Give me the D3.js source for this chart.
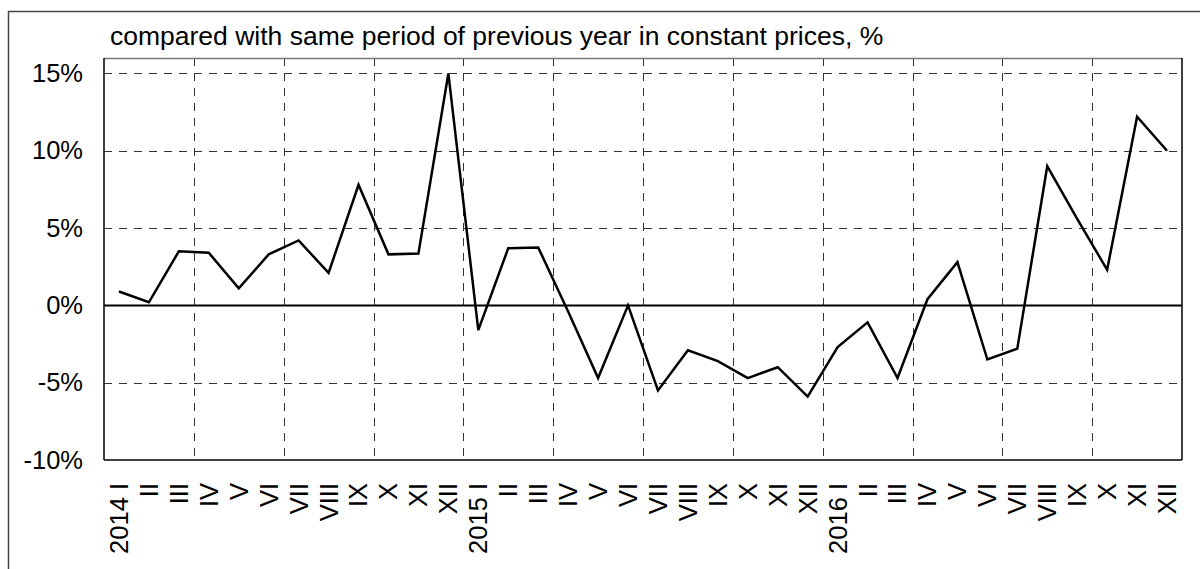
<!DOCTYPE html>
<html>
<head>
<meta charset="utf-8">
<script src="https://cdn.jsdelivr.net/npm/d3@7/dist/d3.min.js"></script>
<style>
  body { margin: 0; background: #fff; }
  text { font-family: 'Liberation Sans', Arial, sans-serif; fill: #000; }
</style>
</head>
<body>
<div id="chart"></div>
<script>
// Data
const years = ['2014', '2015', '2016'];
const months = ['I', 'II', 'III', 'IV', 'V', 'VI', 'VII', 'VIII', 'IX', 'X', 'XI', 'XII'];
const growth = [
  0.9, 0.2, 3.5, 3.4, 1.1, 3.3, 4.2, 2.1, 7.8, 3.3, 3.35, 15.0,
  -1.6, 3.7, 3.75, -0.4, -4.7, 0.0, -5.5, -2.9, -3.6, -4.7, -4.0, -5.9,
  -2.7, -1.1, -4.7, 0.4, 2.8, -3.5, -2.8, 9.0, 5.6, 2.3, 12.2, 10.0
];
const yTicks = [-10, -5, 0, 5, 10, 15];
const title = 'compared with same period of previous year in constant prices, %';

const periods = [];
years.forEach(y => months.forEach((m, i) => periods.push({ key: y + '-' + m, label: i === 0 ? y + ' ' + m : m })));
const data = periods.map((p, i) => ({ key: p.key, label: p.label, value: growth[i] }));

const W = 1200, H = 569;
const margin = { left: 104, right: 18, top: 58, bottom: 109 };
const width = W - margin.left - margin.right;
const height = H - margin.top - margin.bottom;
const fontSize = '25.5px';

const svg = d3.select('#chart').append('svg')
  .attr('width', W)
  .attr('height', H);

// Outer frame
svg.append('rect')
  .attr('x', 8.5).attr('y', 11.5)
  .attr('width', W).attr('height', H)
  .attr('fill', 'none')
  .attr('stroke', '#444')
  .attr('stroke-width', 1.5);

svg.append('text')
  .attr('x', 110).attr('y', 45)
  .attr('font-size', '26.5px')
  .text(title);

const g = svg.append('g')
  .attr('transform', 'translate(' + margin.left + ',' + margin.top + ')');

// Scales
const x = d3.scaleBand().domain(data.map(d => d.key)).range([0, width]).padding(0);
const y = d3.scaleLinear().domain([-10, 16]).range([height, 0]);

// Horizontal grid
g.append('g')
  .selectAll('line')
  .data(yTicks.filter(t => t !== 0 && t !== -10))
  .join('line')
  .attr('x1', 0).attr('x2', width)
  .attr('y1', d => Math.round(y(d)) + 0.5).attr('y2', d => Math.round(y(d)) + 0.5)
  .attr('stroke', '#333')
  .attr('stroke-dasharray', '8,7');

// Vertical grid every quarter
g.append('g')
  .selectAll('line')
  .data(data.filter((d, i) => i > 0 && i % 3 === 0))
  .join('line')
  .attr('x1', d => Math.round(x(d.key)) + 0.5).attr('x2', d => Math.round(x(d.key)) + 0.5)
  .attr('y1', 0).attr('y2', height)
  .attr('stroke', '#333')
  .attr('stroke-dasharray', '8,7');

// Zero line
g.append('line')
  .attr('x1', 0).attr('x2', width)
  .attr('y1', y(0)).attr('y2', y(0))
  .attr('stroke', '#000')
  .attr('stroke-width', 2);

// Plot border
g.append('line').attr('x1', 0).attr('x2', width).attr('y1', 0.5).attr('y2', 0.5)
  .attr('stroke', '#777').attr('stroke-width', 1.5);
g.append('line').attr('x1', 0).attr('x2', width).attr('y1', height).attr('y2', height)
  .attr('stroke', '#000').attr('stroke-width', 1.5);
g.append('line').attr('x1', 0).attr('x2', 0).attr('y1', 0).attr('y2', height)
  .attr('stroke', '#000').attr('stroke-width', 1.5);
g.append('line').attr('x1', width).attr('x2', width).attr('y1', 0).attr('y2', height)
  .attr('stroke', '#000').attr('stroke-width', 1.5);

// Y axis labels
const yAxis = g.append('g')
  .call(d3.axisLeft(y).tickValues(yTicks).tickSize(0).tickPadding(21).tickFormat(d => d + '%'));
yAxis.select('.domain').remove();
yAxis.selectAll('text')
  .attr('font-size', fontSize)
  .attr('font-family', "'Liberation Sans', Arial, sans-serif")
  .attr('fill', '#000');

// X axis labels, rotated
const xAxis = g.append('g')
  .attr('transform', 'translate(0,' + height + ')')
  .call(d3.axisBottom(x).tickSize(0).tickFormat(k => data.find(d => d.key === k).label));
xAxis.select('.domain').remove();
xAxis.selectAll('text')
  .attr('font-size', fontSize)
  .attr('font-family', "'Liberation Sans', Arial, sans-serif")
  .attr('fill', '#000')
  .attr('text-anchor', 'end')
  .attr('transform', 'translate(0,23) rotate(-90)')
  .attr('x', 0)
  .attr('y', 0)
  .attr('dy', '0.35em');

// Line
const line = d3.line()
  .x(d => x(d.key) + x.bandwidth() / 2)
  .y(d => y(d.value));

g.append('path')
  .datum(data)
  .attr('fill', 'none')
  .attr('stroke', '#000')
  .attr('stroke-width', 2.5)
  .attr('stroke-linejoin', 'miter')
  .attr('d', line);
</script>
</body>
</html>
